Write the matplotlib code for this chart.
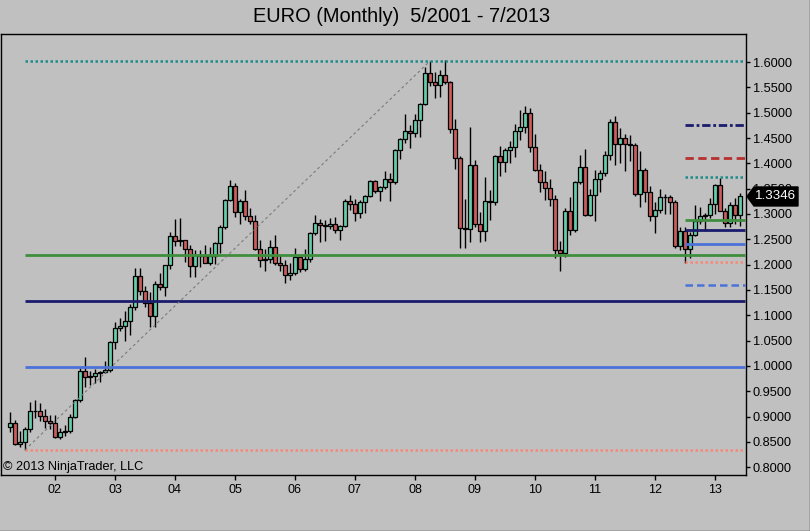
import matplotlib
matplotlib.use('Agg')
import matplotlib.pyplot as plt
import numpy as np
import pandas as pd
from matplotlib.patches import Polygon
from matplotlib.transforms import IdentityTransform
from matplotlib.lines import Line2D

plt.rcParams['font.family'] = ['Liberation Sans', 'DejaVu Sans']

# ---------------- data ----------------
months = pd.period_range('2001-04', '2013-06', freq='M')

opens = [
    .8790, .8870, .8460, .8490, .8760, .9120, .9110, .9010, .8920,
    .8880, .8605, .8695, .8710, .8990, .9320, .9900, .9780, .9800, .9860, .9890, .9930,
    1.0480, 1.0740, 1.0780, 1.0880, 1.1170, 1.1780, 1.1480, 1.1250, 1.0980, 1.1620, 1.1560, 1.1990,
    1.2560, 1.2460, 1.2480, 1.2300, 1.1970, 1.2190, 1.2170, 1.2030, 1.2180, 1.2420, 1.2750, 1.3270,
    1.3550, 1.3040, 1.3260, 1.2960, 1.2870, 1.2300, 1.2100, 1.2120, 1.2340, 1.2030, 1.1990, 1.1790,
    1.1840, 1.2160, 1.1920, 1.2120, 1.2620, 1.2820, 1.2790, 1.2770, 1.2810, 1.2680, 1.2760, 1.3250,
    1.3200, 1.3020, 1.3230, 1.3360, 1.3650, 1.3450, 1.3540, 1.3690, 1.3640, 1.4270, 1.4490, 1.4630,
    1.4590, 1.4860, 1.5180, 1.5790, 1.5600, 1.5550, 1.5750, 1.5610, 1.4670, 1.4100, 1.2730, 1.2700,
    1.3970, 1.2810, 1.2670, 1.3250, 1.3240, 1.4150, 1.4030, 1.4260, 1.4330, 1.4630, 1.4720, 1.4990,
    1.4320, 1.3860, 1.3630, 1.3510, 1.3290, 1.2290, 1.2230, 1.3050, 1.2680, 1.3630, 1.3920, 1.2980,
    1.3380, 1.3690, 1.3800, 1.4160, 1.4810, 1.4390, 1.4500, 1.4390, 1.4360, 1.3390, 1.3860, 1.3440,
    1.2960, 1.3080, 1.3330, 1.3340, 1.3240, 1.2370, 1.2660, 1.2300, 1.2580, 1.2860, 1.2960, 1.2990,
    1.3190, 1.3580, 1.3060, 1.2820, 1.3170, 1.2990,
]
highs = [
    .9095, .8940, .8720, .8800, .9290, .9330, .9260, .9150, .9040,
    .9035, .8780, .8840, .9050, .9350, .9960, 1.0170, .9910, .9950, .9910, 1.0100, 1.0500,
    1.0870, 1.0940, 1.1080, 1.1230, 1.1930, 1.1930, 1.1570, 1.1460, 1.1680, 1.1840, 1.2000, 1.2650,
    1.2900, 1.2930, 1.2490, 1.2380, 1.2280, 1.2290, 1.2380, 1.2340, 1.2440, 1.2780, 1.3290, 1.3670,
    1.3620, 1.3290, 1.3480, 1.3120, 1.2990, 1.2490, 1.2300, 1.2480, 1.2590, 1.2190, 1.2090, 1.2030,
    1.2320, 1.2180, 1.2300, 1.2640, 1.2980, 1.2900, 1.2880, 1.2920, 1.2940, 1.2780, 1.3290, 1.3370,
    1.3290, 1.3270, 1.3380, 1.3680, 1.3680, 1.3550, 1.3850, 1.3800, 1.4280, 1.4500, 1.4970, 1.4760,
    1.4970, 1.5200, 1.5900, 1.6019, 1.5800, 1.5840, 1.6038, 1.5620, 1.4870, 1.4150, 1.3300, 1.4720,
    1.4060, 1.3040, 1.3740, 1.3480, 1.4170, 1.4340, 1.4310, 1.4450, 1.4770, 1.5060, 1.5140, 1.5100,
    1.4580, 1.3990, 1.3840, 1.3690, 1.3380, 1.2460, 1.3110, 1.3330, 1.3650, 1.4160, 1.4280, 1.3500,
    1.3860, 1.3860, 1.4250, 1.4880, 1.4940, 1.4700, 1.4580, 1.4550, 1.4400, 1.4250, 1.3900, 1.3550,
    1.3230, 1.3490, 1.3390, 1.3380, 1.3280, 1.2750, 1.2750, 1.2640, 1.3170, 1.3140, 1.3010, 1.3310,
    1.3590, 1.3711, 1.3110, 1.3240, 1.3310, 1.3420,
]
lows = [
    .8690, .8440, .8400, .8344, .8690, .8970, .8920, .8780, .8760,
    .8575, .8565, .8620, .8680, .8980, .9290, .9580, .9620, .9670, .9690, .9860, .9880,
    1.0330, 1.0690, 1.0500, 1.0620, 1.1100, 1.1400, 1.1160, 1.0760, 1.0770, 1.1500, 1.1380, 1.1920,
    1.2360, 1.2360, 1.2060, 1.1760, 1.1760, 1.1950, 1.2030, 1.2000, 1.2010, 1.2230, 1.2700, 1.3260,
    1.2950, 1.2810, 1.2880, 1.2800, 1.2290, 1.1960, 1.1870, 1.2040, 1.2000, 1.1870, 1.1640, 1.1700,
    1.1800, 1.1860, 1.1870, 1.2060, 1.2590, 1.2450, 1.2460, 1.2700, 1.2620, 1.2480, 1.2740, 1.3070,
    1.2860, 1.2930, 1.3010, 1.3330, 1.3410, 1.3260, 1.3490, 1.3260, 1.3590, 1.4090, 1.4400, 1.4310,
    1.4510, 1.4510, 1.5150, 1.5520, 1.5290, 1.5300, 1.5570, 1.4590, 1.3890, 1.2330, 1.2330, 1.2450,
    1.2750, 1.2450, 1.2460, 1.2880, 1.3180, 1.3750, 1.3830, 1.4000, 1.4130, 1.4470, 1.4600, 1.4220,
    1.3850, 1.3440, 1.3270, 1.3150, 1.2140, 1.1880, 1.2150, 1.2590, 1.2640, 1.3600, 1.2970, 1.2970,
    1.2870, 1.3430, 1.3750, 1.4060, 1.3970, 1.4000, 1.3840, 1.4050, 1.3360, 1.3140, 1.3240, 1.2860,
    1.2620, 1.3020, 1.3000, 1.3000, 1.2330, 1.2280, 1.2042, 1.2130, 1.2560, 1.2800, 1.2660, 1.2930,
    1.3000, 1.3050, 1.2750, 1.2740, 1.2800, 1.2755,
]
closes = [
    .8870, .8460, .8490, .8760, .9120, .9110, .9010, .8920, .8880,
    .8605, .8695, .8710, .8990, .9320, .9900, .9780, .9800, .9860, .9890, .9930, 1.0480,
    1.0740, 1.0780, 1.0880, 1.1170, 1.1780, 1.1480, 1.1250, 1.0980, 1.1620, 1.1560, 1.1990, 1.2560,
    1.2460, 1.2480, 1.2300, 1.1970, 1.2190, 1.2170, 1.2030, 1.2180, 1.2420, 1.2750, 1.3270, 1.3550,
    1.3040, 1.3260, 1.2960, 1.2870, 1.2300, 1.2100, 1.2120, 1.2340, 1.2030, 1.1990, 1.1790, 1.1840,
    1.2160, 1.1920, 1.2120, 1.2620, 1.2820, 1.2790, 1.2770, 1.2810, 1.2680, 1.2760, 1.3250, 1.3200,
    1.3020, 1.3230, 1.3360, 1.3650, 1.3450, 1.3540, 1.3690, 1.3640, 1.4270, 1.4490, 1.4630, 1.4590,
    1.4860, 1.5180, 1.5790, 1.5600, 1.5550, 1.5750, 1.5610, 1.4670, 1.4100, 1.2730, 1.2700, 1.3970,
    1.2810, 1.2670, 1.3250, 1.3240, 1.4150, 1.4030, 1.4260, 1.4330, 1.4630, 1.4720, 1.4990, 1.4320,
    1.3860, 1.3630, 1.3510, 1.3290, 1.2290, 1.2230, 1.3050, 1.2680, 1.3630, 1.3920, 1.2980, 1.3380,
    1.3690, 1.3800, 1.4160, 1.4810, 1.4390, 1.4500, 1.4390, 1.4360, 1.3390, 1.3860, 1.3440, 1.2960,
    1.3080, 1.3330, 1.3340, 1.3240, 1.2370, 1.2660, 1.2300, 1.2580, 1.2860, 1.2960, 1.2990, 1.3190,
    1.3580, 1.3060, 1.2820, 1.3170, 1.2990, 1.3346,
]

# Fibonacci retracement 1: Jul-2001 low -> Apr-2008 high
fib1_start = '2001-07'
fib1_end = '2008-04'
fib1_levels = [1.6019, 1.2182, 1.1276, 0.9987, 0.8344]
fib1_styles = ['teal_dot', 'green', 'navy', 'blue', 'salmon_dot']
# Fibonacci retracement 2: Jul-2012 low -> Feb-2013 high
fib2_start = '2012-07'
fib2_levels = [1.4752, 1.4115, 1.3721, 1.2887, 1.2690, 1.2409, 1.2052, 1.1598]
fib2_styles = ['navy_dashdot', 'red_dash', 'teal_dot', 'green', 'navy', 'blue',
               'salmon_dot', 'blue_dash']

year_labels = ['02', '03', '04', '05', '06', '07', '08', '09', '10', '11', '12', '13']
y_ticks = [0.80, 0.85, 0.90, 0.95, 1.00, 1.05, 1.10, 1.15, 1.20, 1.25, 1.30,
           1.35, 1.40, 1.45, 1.50, 1.55, 1.60]

title = 'EURO (Monthly)  5/2001 - 7/2013'
copyright_text = '\u00a9 2013 NinjaTrader, LLC'

# ---------------- style ----------------
BG = '#C0C0C0'
UP = '#66CDAA'
DOWN = '#CD5C5C'
STY = {
    'teal_dot': dict(color='#1E8C8C', ls=(0, (1, 1)), lw=1.8),
    'salmon_dot': dict(color='#F58A78', ls=(0, (1, 1)), lw=1.8),
    'green': dict(color='#3E8E3E', ls='-', lw=2.0),
    'navy': dict(color='#1C1C6E', ls='-', lw=2.0),
    'blue': dict(color='#4A72D8', ls='-', lw=2.0),
    'red_dash': dict(color='#B83030', ls=(0, (3, 1.6)), lw=2.0),
    'navy_dashdot': dict(color='#1C1C6E', ls=(0, (3, 1, 1, 1)), lw=2.0),
    'blue_dash': dict(color='#4A72D8', ls=(0, (3, 1.6)), lw=1.8),
}

W, H = 810, 531
fig = plt.figure(figsize=(W / 100, H / 100), dpi=100, facecolor=BG)
ax = fig.add_axes([1 / W, 1 - 475 / H, 745 / W, 441 / H])
ax.set_facecolor(BG)

o = np.array(opens); h = np.array(highs); l = np.array(lows); c = np.array(closes)
x = np.arange(len(months))
up = c >= o

ax.vlines(x, l, h, color='black', lw=1, zorder=2)
body_bottom = np.minimum(o, c)
body_h = np.abs(c - o)
ax.bar(x, body_h, bottom=body_bottom, width=0.72,
       color=np.where(up, UP, DOWN), edgecolor='black', linewidth=0.9, zorder=3)

mlist = list(months.strftime('%Y-%m'))
x_right = 147.0

# fib 1
i0 = mlist.index(fib1_start)
i1 = mlist.index(fib1_end)
for lev, st in zip(fib1_levels, fib1_styles):
    s = STY[st]
    ax.hlines(lev, i0, x_right, colors=s['color'], linestyles=[s['ls']], lw=s['lw'], zorder=4)
ax.plot([i0, i1], [fib1_levels[-1], fib1_levels[0]], color='#7A7A7A', lw=0.8,
        ls=(0, (2.5, 2.5)), zorder=4)
# fib 2
j0 = mlist.index(fib2_start)
for lev, st in zip(fib2_levels, fib2_styles):
    s = STY[st]
    ax.hlines(lev, j0, x_right, colors=s['color'], linestyles=[s['ls']], lw=s['lw'], zorder=4)

ax.set_xlim(-1.8, 147.2)
ax.set_ylim(0.7848, 1.6553)

# axes
for sp in ax.spines.values():
    sp.set_color('black')
    sp.set_linewidth(1)

jan_idx = [i for i, m in enumerate(months) if m.month == 1]
ax.set_xticks(jan_idx)
ax.set_xticklabels(year_labels)
ax.yaxis.tick_right()
ax.set_yticks(y_ticks)
ax.set_yticklabels(['%.4f' % v for v in y_ticks])
ax.tick_params(axis='y', direction='out', length=3, width=1, labelsize=9.2, pad=2, colors='black')
ax.tick_params(axis='x', direction='out', length=3.6, width=1, labelsize=9, pad=3, colors='black')

fig.text(401.5 / W, 1 - 17 / H, title, ha='center', va='center', fontsize=14.4, color='black')
fig.text(3 / W, 1 - 467 / H, copyright_text, ha='left', va='center', fontsize=9.2, color='black')

# price marker
fig.canvas.draw()
rx = ax.transAxes.transform((1, 0))[0]
py = ax.transData.transform((0, closes[-1]))[1]
verts = [(rx + 1, py), (rx + 8, py + 9.5), (rx + 52, py + 9.5), (rx + 52, py - 9.5), (rx + 8, py - 9.5)]
fig.add_artist(Polygon(verts, closed=True, facecolor='black', edgecolor='black',
                       transform=IdentityTransform(), zorder=10))
fig.text((rx + 30) / W, py / H, '%.4f' % closes[-1], color='white', ha='center', va='center',
         fontsize=9.6, zorder=11)

# window border (right & bottom)
fig.add_artist(Line2D([809.5 / W, 809.5 / W], [0, 1], color='#333333', lw=1, transform=fig.transFigure))
fig.add_artist(Line2D([0, 1], [0.5 / H, 0.5 / H], color='#333333', lw=1, transform=fig.transFigure))

fig.savefig('out.png', dpi=100, facecolor=BG)
